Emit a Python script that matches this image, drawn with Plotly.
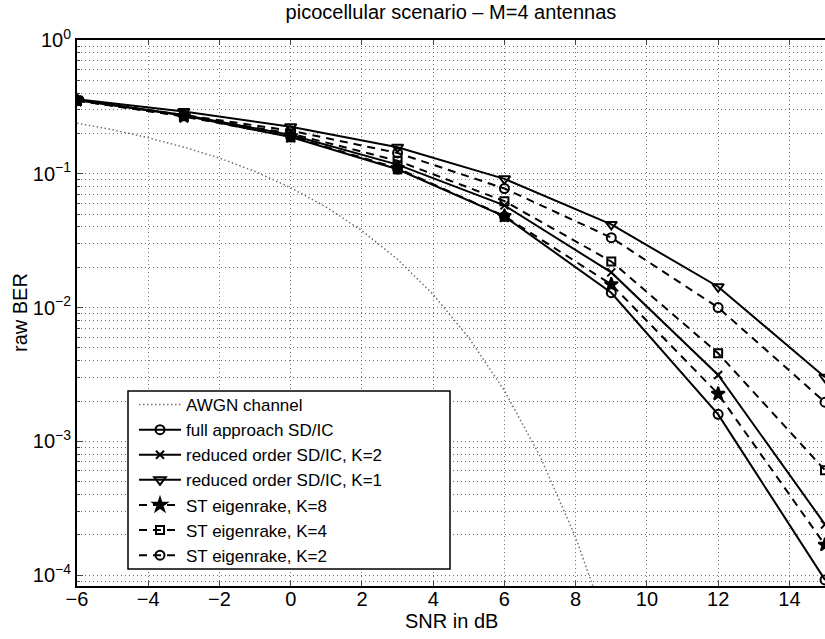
import plotly.graph_objects as go

# SNR grid of the simulated curves (dB)
snr = [-6, -3, 0, 3, 6, 9, 12, 15]

# raw BER
full_sdic = [0.355, 0.272, 0.188, 0.108, 0.048, 0.0129, 0.00159, 0.000092]
reduced_k2 = [0.358, 0.275, 0.195, 0.117, 0.058, 0.0183, 0.00313, 0.000239]
reduced_k1 = [0.360, 0.292, 0.225, 0.158, 0.0916, 0.0418, 0.0143, 0.00301]
eigen_k8 = [0.355, 0.268, 0.190, 0.110, 0.0482, 0.0149, 0.00226, 0.000168]
eigen_k4 = [0.352, 0.270, 0.200, 0.125, 0.0624, 0.0221, 0.00455, 0.000607]
eigen_k2 = [0.352, 0.275, 0.210, 0.143, 0.0776, 0.0333, 0.0100, 0.00196]

# AWGN reference curve (read at 1 dB steps)
awgn_snr = [-6, -5, -4, -3, -2, -1, 0, 1, 2, 3, 4, 5, 6, 7, 8, 9]
awgn_ber = [0.239, 0.213, 0.186, 0.158, 0.131, 0.104, 0.0786, 0.0563, 0.0375,
            0.0229, 0.0125, 0.00595, 0.00239, 0.000773, 0.000191, 0.0000336]

y_tickvals = [1, 0.1, 0.01, 0.001, 0.0001]
y_ticktext = ['10<sup>0</sup>', '10<sup>\u22121</sup>', '10<sup>\u22122</sup>',
              '10<sup>\u22123</sup>', '10<sup>\u22124</sup>']
minor_vals = [k * 10.0 ** e for e in range(-5, 0) for k in range(2, 10)]

GRID = '#707070'
DOTS = '1px,3px'

# plot box in pixels: x 77..825, y 40..586
def px_x(p):
    return (p - 77) / 748

def px_y(p):
    return (586 - p) / 546

fig = go.Figure()

fig.add_trace(go.Scatter(x=awgn_snr, y=awgn_ber, mode='lines', name='AWGN channel',
                         line=dict(color='#707070', width=1.5, dash='1.5px,2.5px')))

series = [
    ('full approach SD/IC', full_sdic, 'solid', 'circle-open', 9),
    ('reduced order SD/IC, K=2', reduced_k2, 'solid', 'x-thin-open', 8),
    ('reduced order SD/IC, K=1', reduced_k1, 'solid', 'triangle-down-open', 10),
    ('ST eigenrake, K=8', eigen_k8, '8px,6px', 'star', 10),
    ('ST eigenrake, K=4', eigen_k4, '8px,6px', 'square-open', 8),
    ('ST eigenrake, K=2', eigen_k2, '8px,6px', 'circle-open', 9),
]
for name, vals, dash, sym, size in series:
    fig.add_trace(go.Scatter(
        x=snr, y=vals, mode='lines+markers', name=name,
        line=dict(color='black', width=2, dash=dash),
        marker=dict(symbol=sym, size=size, color='black',
                    line=dict(color='black', width=2))))

fig.update_xaxes(range=[-6, 15], tick0=-6, dtick=2, ticks='inside', ticklen=5,
                 showline=True, linecolor='black', linewidth=2, mirror='ticks',
                 showgrid=True, gridcolor=GRID, gridwidth=1, griddash=DOTS,
                 zeroline=False, automargin=False, ticklabelstandoff=-6,
                 tickfont=dict(size=20, color='black'))

fig.update_yaxes(type='log', range=[-4.082, 0], tickmode='array', tickvals=y_tickvals,
                 ticktext=y_ticktext, ticks='inside', ticklen=6,
                 showline=True, linecolor='black', linewidth=2, mirror=False,
                 showgrid=True, gridcolor=GRID, gridwidth=1, griddash=DOTS,
                 zeroline=False, automargin=False, tickfont=dict(size=20, color='black'),
                 minor=dict(tickmode='array', tickvals=minor_vals, ticks='inside', ticklen=3,
                            showgrid=True, gridcolor=GRID, gridwidth=1, griddash=DOTS))

# axis titles as annotations
fig.add_annotation(text='SNR in dB', x=0.5, xref='paper', y=px_y(621), yref='paper',
                   xanchor='center', yanchor='middle', showarrow=False, font=dict(size=20))
fig.add_annotation(text='raw BER', x=px_x(20), xref='paper', y=0.5, yref='paper',
                   xanchor='center', yanchor='middle', showarrow=False,
                   textangle=-90, font=dict(size=20))

# legend frame (the legend itself is drawn transparent on top of it)
fig.add_shape(type='rect', xref='paper', yref='paper',
              x0=px_x(128), x1=px_x(450), y0=px_y(569), y1=px_y(391),
              fillcolor='white', line=dict(color='black', width=1.5), layer='above')

fig.update_layout(
    width=825, height=639,
    margin=dict(l=77, r=0, t=40, b=53),
    paper_bgcolor='white', plot_bgcolor='white',
    font=dict(family='Liberation Sans, Arial, sans-serif', size=20, color='black'),
    title=dict(text='picocellular scenario \u2013 M=4 antennas', x=0.5, xref='paper',
               xanchor='center', y=0.981, yref='container', yanchor='middle',
               font=dict(size=20)),
    legend=dict(x=px_x(134), y=px_y(387), xanchor='left', yanchor='top',
                bgcolor='rgba(0,0,0,0)', borderwidth=0,
                font=dict(size=17), itemwidth=42, tracegroupgap=0),
    showlegend=True,
)

fig.write_html("out.html", config={'displayModeBar': False},
               post_script="document.body.style.margin='0';document.body.style.overflow='hidden';")
